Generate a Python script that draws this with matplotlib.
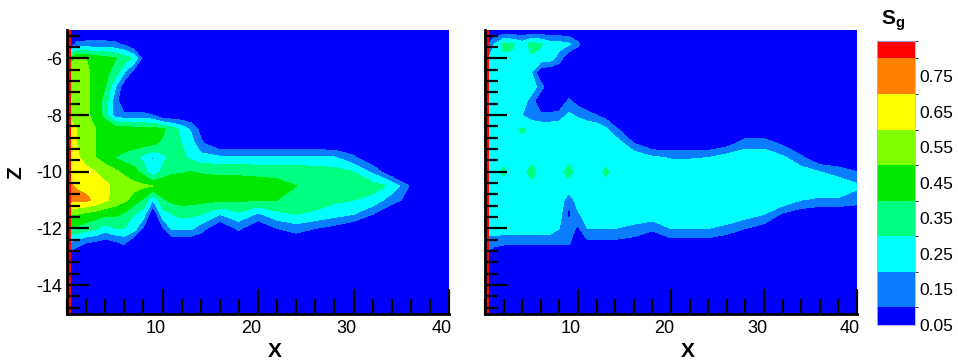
import numpy as np
import matplotlib
matplotlib.use("Agg")
import matplotlib.pyplot as plt
import matplotlib.transforms as mtransforms
from matplotlib.colors import ListedColormap, BoundaryNorm
from matplotlib.colorbar import ColorbarBase
from matplotlib.ticker import MultipleLocator

plt.rcParams['font.family'] = ['Liberation Sans', 'DejaVu Sans']
plt.rcParams['mathtext.fontset'] = 'custom'
plt.rcParams['mathtext.rm'] = 'Liberation Sans'
plt.rcParams['mathtext.bf'] = 'Liberation Sans:bold'

# grid nodes (X along the section, Z depth)
x_nodes = [0, 1, 2, 3, 4, 5, 6, 7, 8, 9, 10, 11, 12, 13, 14, 16, 18, 20, 22, 24, 26, 28, 30, 32, 34, 36, 38, 40]
z_nodes = [-5.0, -5.5, -6.0, -6.5, -7.0, -7.5, -8.0, -8.5, -9.0, -9.5, -10.0,
           -10.5, -11.0, -11.5, -12.0, -12.5, -13.0, -13.5, -14.0, -14.5, -15.0]

# gas saturation (percent), one row per z node
sg_left = [
    [ 0,  0,  0,  0,  0,  0,  0,  0,  0,  0,  0,  0,  0,  0,  0,  0,  0,  0,  0,  0,  0,  0,  0,  0,  0,  0,  0,  0],
    [ 0, 12, 13, 13, 13, 12,  8,  0,  0,  0,  0,  0,  0,  0,  0,  0,  0,  0,  0,  0,  0,  0,  0,  0,  0,  0,  0,  0],
    [35, 52, 50, 46, 44, 41, 36, 28,  6,  0,  0,  0,  0,  0,  0,  0,  0,  0,  0,  0,  0,  0,  0,  0,  0,  0,  0,  0],
    [55, 56, 52, 47, 43, 36, 20,  5,  0,  0,  0,  0,  0,  0,  0,  0,  0,  0,  0,  0,  0,  0,  0,  0,  0,  0,  0,  0],
    [60, 57, 52, 47, 40, 22,  3,  0,  0,  0,  0,  0,  0,  0,  0,  0,  0,  0,  0,  0,  0,  0,  0,  0,  0,  0,  0,  0],
    [62, 58, 52, 46, 36, 15,  0,  0,  0,  0,  0,  0,  0,  0,  0,  0,  0,  0,  0,  0,  0,  0,  0,  0,  0,  0,  0,  0],
    [60, 58, 52, 46, 36, 15, 12, 12, 12, 10,  0,  0,  0,  0,  0,  0,  0,  0,  0,  0,  0,  0,  0,  0,  0,  0,  0,  0],
    [62, 60, 55, 50, 48, 47, 46, 45, 45, 44, 42, 35, 27, 18,  7,  0,  0,  0,  0,  0,  0,  0,  0,  0,  0,  0,  0,  0],
    [65, 60, 55, 50, 48, 47, 46, 45, 44, 42, 38, 34, 30, 25, 12,  0,  0,  0,  0,  0,  0,  0,  0,  0,  0,  0,  0,  0],
    [65, 62, 55, 50, 45, 40, 36, 33, 27, 19, 27, 33, 32, 28, 24, 22, 22, 22, 22, 22, 22, 21, 12,  0,  0,  0,  0,  0],
    [68, 64, 64, 60, 56, 52, 48, 44, 36, 21, 33, 38, 39, 40, 39, 38, 38, 37, 37, 36, 35, 34, 30, 18,  0,  0,  0,  0],
    [72, 69, 67, 64, 62, 58, 55, 53, 52, 50, 49, 48, 47, 46, 46, 45, 45, 45, 43, 40, 37, 35, 33, 34, 28,  8,  0,  0],
    [72, 73, 72, 68, 62, 56, 52, 46, 38, 20, 38, 43, 44, 44, 43, 42, 41, 41, 40, 38, 35, 32, 30, 27, 14,  6,  0,  0],
    [50, 50, 47, 45, 42, 42, 38, 30, 25,  0, 25, 30, 33, 32, 30, 20, 28, 18, 27, 30, 28, 24, 20, 10,  0,  0,  0,  0],
    [40, 38, 35, 32, 25, 30, 30, 25,  8,  0,  8, 22, 22, 22, 15,  0, 12,  0, 10, 15, 10,  6,  0,  0,  0,  0,  0,  0],
    [20, 15, 10,  8,  5,  8, 12,  0,  0,  0,  0,  0,  0,  0,  0,  0,  0,  0,  0,  0,  0,  0,  0,  0,  0,  0,  0,  0],
    [ 5,  0,  0,  0,  0,  0,  0,  0,  0,  0,  0,  0,  0,  0,  0,  0,  0,  0,  0,  0,  0,  0,  0,  0,  0,  0,  0,  0],
    [ 0,  0,  0,  0,  0,  0,  0,  0,  0,  0,  0,  0,  0,  0,  0,  0,  0,  0,  0,  0,  0,  0,  0,  0,  0,  0,  0,  0],
    [ 0,  0,  0,  0,  0,  0,  0,  0,  0,  0,  0,  0,  0,  0,  0,  0,  0,  0,  0,  0,  0,  0,  0,  0,  0,  0,  0,  0],
    [ 0,  0,  0,  0,  0,  0,  0,  0,  0,  0,  0,  0,  0,  0,  0,  0,  0,  0,  0,  0,  0,  0,  0,  0,  0,  0,  0,  0],
    [ 0,  0,  0,  0,  0,  0,  0,  0,  0,  0,  0,  0,  0,  0,  0,  0,  0,  0,  0,  0,  0,  0,  0,  0,  0,  0,  0,  0],
]

sg_right = [
    [ 0,  0,  0,  0,  0,  0,  0,  0,  0,  0,  0,  0,  0,  0,  0,  0,  0,  0,  0,  0,  0,  0,  0,  0,  0,  0,  0,  0],
    [ 5, 20, 33, 31, 25, 34, 31, 25, 24, 22, 12,  0,  0,  0,  0,  0,  0,  0,  0,  0,  0,  0,  0,  0,  0,  0,  0,  0],
    [15, 27, 28, 28, 28, 28, 27, 25, 15,  0,  0,  0,  0,  0,  0,  0,  0,  0,  0,  0,  0,  0,  0,  0,  0,  0,  0,  0],
    [27, 28, 28, 28, 27, 20,  0,  0,  0,  0,  0,  0,  0,  0,  0,  0,  0,  0,  0,  0,  0,  0,  0,  0,  0,  0,  0,  0],
    [28, 28, 28, 28, 28, 26, 15,  0,  0,  0,  0,  0,  0,  0,  0,  0,  0,  0,  0,  0,  0,  0,  0,  0,  0,  0,  0,  0],
    [28, 28, 28, 28, 26, 15,  0,  0,  0, 12,  5,  0,  0,  0,  0,  0,  0,  0,  0,  0,  0,  0,  0,  0,  0,  0,  0,  0],
    [28, 28, 28, 28, 20, 15, 12, 12, 14, 22, 18, 14, 10,  5,  0,  0,  0,  0,  0,  0,  0,  0,  0,  0,  0,  0,  0,  0],
    [28, 28, 28, 28, 31, 28, 28, 28, 28, 28, 28, 28, 28, 22, 12,  0,  0,  0,  0,  0,  0,  0,  0,  0,  0,  0,  0,  0],
    [28, 28, 28, 28, 28, 28, 28, 28, 28, 28, 28, 28, 28, 28, 28, 10,  0,  0,  0,  0,  5, 15, 15,  8,  0,  0,  0,  0],
    [28, 28, 28, 28, 28, 28, 28, 28, 28, 28, 28, 28, 28, 28, 28, 28, 22, 19, 19, 20, 25, 27, 27, 22, 12,  0,  0,  0],
    [28, 28, 31, 28, 28, 32, 28, 28, 28, 32, 28, 28, 28, 31, 28, 28, 28, 28, 28, 28, 28, 28, 28, 27, 25, 20, 15, 10],
    [28, 28, 28, 28, 28, 28, 28, 28, 28, 28, 28, 28, 28, 28, 28, 28, 28, 28, 28, 28, 28, 28, 28, 28, 28, 28, 28, 22],
    [28, 28, 28, 28, 28, 28, 28, 28, 28, 12, 26, 28, 28, 28, 28, 28, 28, 28, 28, 28, 28, 28, 28, 28, 20, 18, 18, 15],
    [28, 28, 28, 28, 28, 28, 28, 28, 24,  7, 18, 26, 27, 27, 27, 27, 27, 27, 27, 27, 27, 25, 20,  8,  3,  0,  0,  0],
    [24, 26, 26, 26, 26, 26, 26, 26, 20, 15,  8, 20, 20, 20, 20, 17, 12, 20, 20, 20, 17, 10,  5,  0,  0,  0,  0,  0],
    [15, 14, 12, 12, 12, 12, 12, 12, 12, 12,  0,  7,  7,  7,  7,  5,  0,  5,  5,  5,  0,  0,  0,  0,  0,  0,  0,  0],
    [ 8,  0,  0,  0,  0,  0,  0,  0,  0,  0,  0,  0,  0,  0,  0,  0,  0,  0,  0,  0,  0,  0,  0,  0,  0,  0,  0,  0],
    [ 0,  0,  0,  0,  0,  0,  0,  0,  0,  0,  0,  0,  0,  0,  0,  0,  0,  0,  0,  0,  0,  0,  0,  0,  0,  0,  0,  0],
    [ 0,  0,  0,  0,  0,  0,  0,  0,  0,  0,  0,  0,  0,  0,  0,  0,  0,  0,  0,  0,  0,  0,  0,  0,  0,  0,  0,  0],
    [ 0,  0,  0,  0,  0,  0,  0,  0,  0,  0,  0,  0,  0,  0,  0,  0,  0,  0,  0,  0,  0,  0,  0,  0,  0,  0,  0,  0],
    [ 0,  0,  0,  0,  0,  0,  0,  0,  0,  0,  0,  0,  0,  0,  0,  0,  0,  0,  0,  0,  0,  0,  0,  0,  0,  0,  0,  0],
]

# contour levels and legend
levels = [-1.0, 0.1, 0.2, 0.3, 0.4, 0.5, 0.6, 0.7, 0.8, 2.0]
legend_bounds = [0.05, 0.1, 0.2, 0.3, 0.4, 0.5, 0.6, 0.7, 0.8, 0.85]
legend_ticks = [0.05, 0.15, 0.25, 0.35, 0.45, 0.55, 0.65, 0.75]
legend_labels = ["0.05", "0.15", "0.25", "0.35", "0.45", "0.55", "0.65", "0.75"]
band_colors = ['#0000ff', '#0a7dff', '#00ffff', '#00ff80', '#00e800',
               '#80ff00', '#ffff00', '#ff8000', '#ff0000']

W, H = 958, 363
fig = plt.figure(figsize=(W / 100, H / 100), dpi=100)
ax_l = fig.add_axes([67 / W, 49.5 / H, 382 / W, 283.5 / H])
ax_r = fig.add_axes([485 / W, 49.5 / H, 372 / W, 283.5 / H])

shift = mtransforms.ScaledTranslation(-0.07, 0, fig.dpi_scale_trans)

for ax, grid in ((ax_l, sg_left), (ax_r, sg_right)):
    sg = np.array(grid) / 100.0
    ax.contourf(x_nodes, z_nodes, sg, levels=levels, colors=band_colors, zorder=0)
    # injection column along the left boundary
    ax.axvspan(0, 0.4, color='#ff0000', lw=0, zorder=0.5)
    ax.set_axisbelow(False)
    ax.set_xlim(0, 40)
    ax.set_ylim(-15, -5)
    for s in ('top', 'right'):
        ax.spines[s].set_visible(False)
    for s in ('left', 'bottom'):
        ax.spines[s].set_linewidth(2)
        ax.spines[s].set_zorder(3)
    ax.set_xticks([10, 20, 30, 40])
    ax.set_xticklabels(["10", "20", "30", "40"])
    ax.xaxis.set_minor_locator(MultipleLocator(2))
    ax.set_yticks([-14, -12, -10, -8, -6])
    ax.set_yticklabels(["-14", "-12", "-10", "-8", "-6"])
    ax.yaxis.set_minor_locator(MultipleLocator(0.4))
    ax.tick_params(which='both', direction='in', width=1.6, color='black',
                   labelcolor='black', labelsize=13, left=True, bottom=True)
    ax.tick_params(axis='x', which='major', length=18, pad=4.5)
    ax.tick_params(axis='x', which='minor', length=11)
    ax.tick_params(axis='y', which='major', length=16, pad=3.5)
    ax.tick_params(axis='y', which='minor', length=9)
    for lab in ax.get_xticklabels():
        lab.set_transform(lab.get_transform() + shift)
    fig.text((ax.get_position().x0 + 0.545 * ax.get_position().width), 1 - 357 / H, 'X',
             ha='center', va='baseline', fontsize=15, fontweight='bold')

ax_r.tick_params(labelleft=False)

fig.text(16 / W, 1 - 173 / H, 'Z', rotation=90, ha='center', va='center',
         fontsize=15, fontweight='bold')

# legend bar
cax = fig.add_axes([877 / W, 38 / H, 38 / W, 284.3 / H])
cb = ColorbarBase(cax, cmap=ListedColormap(band_colors),
                  norm=BoundaryNorm(legend_bounds, len(band_colors)),
                  boundaries=legend_bounds, ticks=legend_ticks,
                  spacing='proportional', orientation='vertical')
cb.set_ticklabels(legend_labels)
cb.outline.set_linewidth(0.6)
cb.outline.set_edgecolor('#b0b0ff')
cax.tick_params(length=0, labelsize=12.5, pad=3)
fig.text(893 / W, 1 - 25 / H, r'$\mathbf{S_g}$', ha='center', va='baseline', fontsize=15)

fig.savefig("out.png", dpi=100)
